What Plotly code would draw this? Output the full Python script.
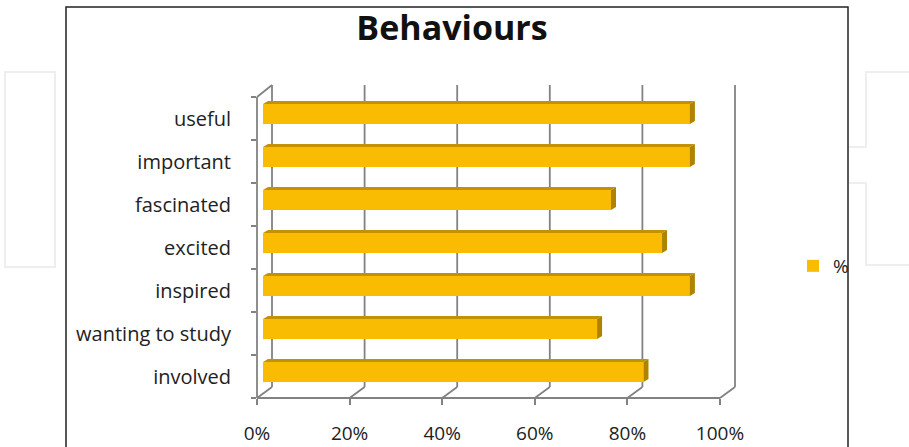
import plotly.graph_objects as go

# ---- data ----
categories = ["useful", "important", "fascinated", "excited", "inspired", "wanting to study", "involved"]
values = [0.92, 0.92, 0.75, 0.86, 0.92, 0.72, 0.82]
series_name = "%"
tick_vals = [0, 0.2, 0.4, 0.6, 0.8, 1.0]
tick_text = ["0%", "20%", "40%", "60%", "80%", "100%"]
title_text = "Behaviours"

# ---- geometry (pixels) ----
FIG_W, FIG_H = 909, 447
L, R, T, B = 257, 735, 85, 398
PW, PH = R - L, B - T

# bar plane
BAR_X0, BAR_SX = 263, 464.0
BAR_Y0, SLOT = 372.0, 43.0
# front plane
FR_X0, FR_SX = 257, 463.0
FR_Y0 = 376.5
# back plane
BK_X0 = 272
BK_TOP, BK_BOT = 85, 387

def px(xp):
    return (xp - L) / PW

def py(yp):
    return (B - yp) / PH

order = list(reversed(categories))           # bottom -> top
pos = [order.index(c) for c in categories]   # numeric slot for each bar

grid_col = "#828282"
bar_col = "#F9BC02"
top_col = "#C39200"
side_col = "#AD8300"
font_fam = "'Open Sans', Lato, sans-serif"
FS = 19

fig = go.Figure()
fig.add_trace(go.Bar(
    x=values, y=pos, orientation="h", name=series_name,
    width=0.46, marker=dict(color=bar_col, line=dict(width=0)),
    showlegend=True, hoverinfo="x+y",
))
# dummy trace for the front-plane label axes
fig.add_trace(go.Scatter(
    x=[0] * len(categories), y=categories, xaxis="x2", yaxis="y2",
    mode="markers", marker=dict(opacity=0), showlegend=False, hoverinfo="skip",
))

shapes = []
line = dict(color=grid_col, width=1.8)

# back wall gridlines and floor diagonals
for t in tick_vals:
    bx = BK_X0 + FR_SX * t
    fx = FR_X0 + FR_SX * t
    shapes.append(dict(type="line", xref="paper", yref="paper",
                       x0=px(bx), x1=px(bx), y0=py(BK_BOT), y1=py(BK_TOP), line=line, layer="below"))
    shapes.append(dict(type="line", xref="paper", yref="paper",
                       x0=px(bx), x1=px(fx), y0=py(BK_BOT), y1=py(B), line=line, layer="below"))
# front floor edge
shapes.append(dict(type="line", xref="paper", yref="paper",
                   x0=px(FR_X0), x1=px(FR_X0 + FR_SX), y0=py(B), y1=py(B), line=line))
# front vertical axis + top left diagonal
FR_TOP = B - 7 * SLOT
shapes.append(dict(type="line", xref="paper", yref="paper",
                   x0=px(FR_X0), x1=px(FR_X0), y0=py(B), y1=py(FR_TOP), line=line))
shapes.append(dict(type="line", xref="paper", yref="paper",
                   x0=px(FR_X0), x1=px(BK_X0), y0=py(FR_TOP), y1=py(BK_TOP), line=line))

# 3D faces of bars (top and right side), in bar data coordinates
dx = 5 / BAR_SX
dy = 3 / SLOT
hw = 0.23
for v, p in zip(values, pos):
    yt = p + hw
    yb = p - hw
    shapes.append(dict(type="path", xref="x", yref="y",
                       path=f"M 0,{yt} L {v},{yt} L {v+dx},{yt+dy} L {dx},{yt+dy} Z",
                       fillcolor=top_col, line=dict(width=0)))
    shapes.append(dict(type="path", xref="x", yref="y",
                       path=f"M {v},{yb} L {v},{yt} L {v+dx},{yt+dy} L {v+dx},{yb+dy} Z",
                       fillcolor=side_col, line=dict(width=0)))

# chart frame
shapes.append(dict(type="rect", xref="paper", yref="paper",
                   x0=px(66), x1=px(848), y0=py(7), y1=py(470),
                   line=dict(color="#222222", width=1.5), layer="below"))
# faint watermark outlines
wm = dict(color="#eeeeee", width=2)
shapes.append(dict(type="rect", xref="paper", yref="paper",
                   x0=px(5), x1=px(55), y0=py(72), y1=py(267), line=wm, layer="below"))
shapes.append(dict(type="path", xref="paper", yref="paper",
                   path=f"M {px(915)},{py(72)} L {px(866)},{py(72)} L {px(866)},{py(147)} L {px(849)},{py(147)}",
                   line=wm, layer="below"))
shapes.append(dict(type="path", xref="paper", yref="paper",
                   path=f"M {px(849)},{py(183)} L {px(866)},{py(183)} L {px(866)},{py(265)} L {px(915)},{py(265)}",
                   line=wm, layer="below"))

fig.update_layout(
    width=FIG_W, height=FIG_H,
    margin=dict(l=L, r=FIG_W - R, t=T, b=FIG_H - B, pad=0, autoexpand=False),
    paper_bgcolor="white", plot_bgcolor="rgba(0,0,0,0)",
    font=dict(family=font_fam, size=FS, color="#222222"),
    title=dict(text=f"<b>{title_text}</b>", xref="container", yref="container",
               x=452 / FIG_W, y=1 - 28 / FIG_H, xanchor="center", yanchor="middle",
               font=dict(size=34, color="#111111", family=font_fam)),
    xaxis=dict(range=[(L - BAR_X0) / BAR_SX, (R - BAR_X0) / BAR_SX],
               visible=False, showgrid=False, zeroline=False, fixedrange=True),
    yaxis=dict(range=[(BAR_Y0 - B) / SLOT, (BAR_Y0 - T) / SLOT],
               visible=False, showgrid=False, zeroline=False, fixedrange=True),
    xaxis2=dict(overlaying="x", anchor="y2", side="bottom",
                range=[(L - FR_X0) / FR_SX, (R - FR_X0) / FR_SX],
                tickvals=tick_vals, ticktext=tick_text,
                ticks="outside", ticklen=6, tickcolor=grid_col, tickwidth=1.8,
                ticklabelstandoff=12, automargin=False,
                showgrid=False, zeroline=False, showline=False,
                tickfont=dict(size=FS, color="#222222")),
    yaxis2=dict(overlaying="y", anchor="x2", side="left", type="category",
                categoryorder="array", categoryarray=order,
                range=[(FR_Y0 - B) / SLOT, (FR_Y0 - T) / SLOT],
                tickson="boundaries", ticks="outside", ticklen=5,
                tickcolor=grid_col, tickwidth=1.8, ticklabelstandoff=25, automargin=False,
                showgrid=False, zeroline=False, showline=False,
                tickfont=dict(size=20, color="#222222")),
    legend=dict(x=px(793), y=py(266), xanchor="left", yanchor="middle",
                bgcolor="rgba(0,0,0,0)", font=dict(size=FS, color="#222222"),
                itemwidth=30),
    shapes=shapes,
    bargap=0,
)

fig.write_html("out.html", config={"displayModeBar": False},
               post_script="document.body.style.margin='0';")
